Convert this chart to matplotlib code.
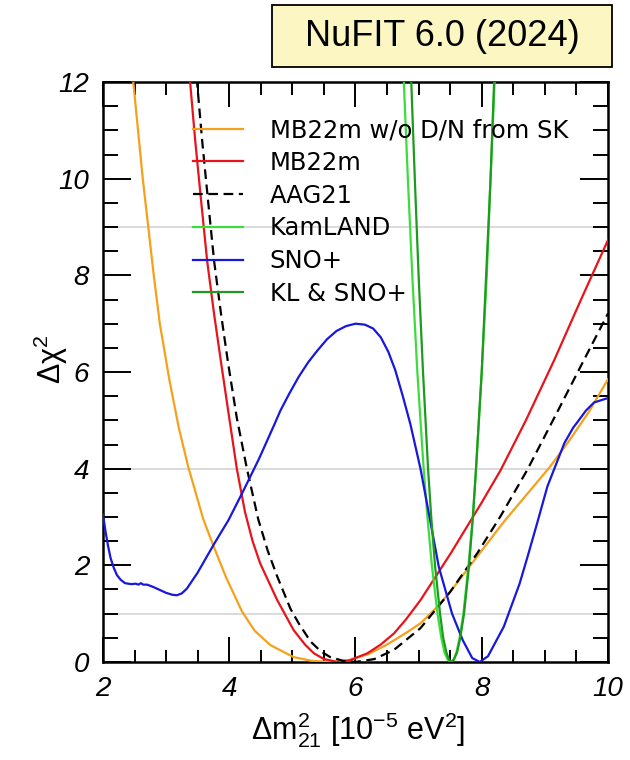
import matplotlib
matplotlib.use("Agg")
import matplotlib.pyplot as plt
from matplotlib.patches import Rectangle

# =========================
# data (x = dm21^2 [1e-5 eV^2], y = delta chi^2)
# =========================
orange_x = [2.45, 2.48, 2.63, 2.80, 2.90, 3.05, 3.20, 3.35, 3.59, 3.75, 3.95, 4.20, 4.40, 4.65,
            5.02, 5.30, 5.60, 5.90, 6.20, 6.50, 6.80, 7.03, 7.25, 7.50, 7.88, 8.35, 8.80, 9.07,
            9.36, 9.70, 10.0]
orange_y = [12.4, 12.0, 10.0, 8.05, 7.0, 5.85, 4.85, 4.04, 2.95, 2.40, 1.75, 1.05, 0.65, 0.35,
            0.10, 0.025, 0.0, 0.04, 0.16, 0.36, 0.60, 0.80, 1.08, 1.45, 2.10, 2.90, 3.60, 4.02,
            4.53, 5.18, 5.85]

red_x = [3.36, 3.38, 3.46, 3.55, 3.65, 3.76, 3.87, 4.00, 4.12, 4.25, 4.37, 4.49, 4.76, 5.02,
         5.20, 5.34, 5.50, 5.71, 5.90, 6.19, 6.40, 6.61, 6.80, 7.03, 7.51, 8.00, 8.30, 8.70,
         9.15, 9.57, 10.0]
red_y = [12.4, 12.0, 10.8, 9.6, 8.3, 7.2, 6.2, 5.05, 4.0, 3.10, 2.50, 2.04, 1.28, 0.66,
         0.36, 0.18, 0.06, 0.0, 0.03, 0.18, 0.36, 0.59, 0.88, 1.28, 2.25, 3.30, 3.97, 5.0,
         6.25, 7.49, 8.73]

aag_x = [3.47, 3.49, 3.57, 3.66, 3.76, 3.87, 3.98, 4.12, 4.28, 4.46, 4.61, 4.76, 4.97, 5.10,
         5.29, 5.45, 5.60, 5.80, 6.00, 6.30, 6.61, 7.03, 7.50, 7.93, 8.30, 8.72, 9.20, 9.62, 10.0]
aag_y = [12.4, 12.0, 10.8, 9.6, 8.3, 7.2, 6.2, 5.05, 4.0, 2.95, 2.30, 1.77, 1.10, 0.80,
         0.42, 0.22, 0.10, 0.025, 0.0, 0.06, 0.25, 0.70, 1.45, 2.25, 3.02, 3.97, 5.18, 6.25, 7.21]

kl_x = [6.75, 6.83, 6.90, 6.98, 7.08, 7.14, 7.21, 7.30, 7.36, 7.41, 7.46, 7.51,
        7.555, 7.60, 7.65, 7.71, 7.79, 7.86, 7.91, 8.00, 8.08, 8.14, 8.22]
kl_y = [12.5, 10.0, 8.0, 6.0, 4.0, 3.0, 2.0, 1.0, 0.5, 0.2, 0.05, 0.0,
        0.05, 0.2, 0.5, 1.0, 2.0, 3.0, 4.0, 6.0, 8.0, 10.0, 12.5]

klsno_x = [6.87, 6.94, 7.00, 7.07, 7.15, 7.20, 7.26, 7.34, 7.39, 7.44, 7.48, 7.52,
           7.56, 7.61, 7.66, 7.72, 7.80, 7.86, 7.91, 8.00, 8.07, 8.14, 8.21]
klsno_y = [12.5, 10.0, 8.0, 6.0, 4.0, 3.0, 2.0, 1.0, 0.5, 0.2, 0.05, 0.0,
           0.05, 0.2, 0.5, 1.0, 2.0, 3.0, 4.0, 6.0, 8.0, 10.0, 12.5]

sno_x = [2.00, 2.04, 2.08, 2.12, 2.17, 2.22, 2.28, 2.35, 2.45, 2.52, 2.56, 2.60, 2.64, 2.70,
         2.80, 2.90, 3.00, 3.10, 3.17, 3.25, 3.33, 3.50, 3.75, 3.99, 4.23, 4.47, 4.70, 4.81,
         4.95, 5.10, 5.25, 5.40, 5.55, 5.70, 5.85, 6.00, 6.15, 6.28, 6.40, 6.52, 6.63, 6.75,
         6.87, 7.03, 7.18, 7.32, 7.53, 7.70, 7.85, 7.97, 8.10, 8.35, 8.60, 8.72, 8.88, 9.04,
         9.31, 9.45, 9.52, 9.65, 9.78, 9.90, 10.0]
sno_y = [3.05, 2.70, 2.40, 2.15, 1.95, 1.80, 1.70, 1.63, 1.61, 1.62, 1.60, 1.63, 1.60, 1.60,
         1.55, 1.49, 1.43, 1.39, 1.38, 1.42, 1.52, 1.85, 2.42, 2.94, 3.56, 4.20, 4.87, 5.20,
         5.55, 5.90, 6.20, 6.45, 6.68, 6.85, 6.95, 7.00, 6.98, 6.90, 6.72, 6.42, 6.04, 5.50,
         4.92, 4.00, 2.95, 1.97, 1.00, 0.45, 0.08, 0.0, 0.12, 0.73, 1.62, 2.15, 2.88, 3.63,
         4.53, 4.85, 4.97, 5.20, 5.37, 5.42, 5.46]

ref_levels = [1, 4, 9]

# =========================
# style
# =========================
plt.rcParams['font.family'] = ['Liberation Sans', 'DejaVu Sans']
plt.rcParams['mathtext.fontset'] = 'custom'
plt.rcParams['mathtext.rm'] = 'Liberation Sans'
plt.rcParams['mathtext.it'] = 'Liberation Sans:italic'
plt.rcParams['mathtext.default'] = 'regular'
plt.rcParams['lines.scale_dashes'] = False

fig = plt.figure(figsize=(6.3, 7.6), dpi=100)
ax = fig.add_axes([0.1635, 0.129, 0.8015, 0.763])

for lev in ref_levels:
    ax.axhline(lev, color='#d4d4d4', lw=1.2, zorder=1)

lw = 1.6
ax.plot(orange_x, orange_y, color='#f5a11c', lw=lw, label='MB22m w/o D/N from SK', zorder=3)
ax.plot(red_x, red_y, color='#e8141c', lw=lw, label='MB22m', zorder=3)
ax.plot(aag_x, aag_y, color='black', lw=lw, dashes=(7, 4), label='AAG21', zorder=3)
ax.plot(kl_x, kl_y, color='#3ddc3d', lw=lw, label='KamLAND', zorder=3)
ax.plot(sno_x, sno_y, color='#1818dc', lw=lw, label='SNO+', zorder=3)
ax.plot(klsno_x, klsno_y, color='#1e9a1e', lw=lw, label='KL & SNO+', zorder=3)

ax.set_xlim(2, 10)
ax.set_ylim(0, 12)
ax.set_xticks([2, 4, 6, 8, 10])
ax.set_xticks([x * 0.5 for x in range(4, 21)], minor=True)
ax.set_yticks([0, 2, 4, 6, 8, 10, 12])
ax.set_yticks([y * 0.5 for y in range(0, 25)], minor=True)

ax.tick_params(axis='both', which='both', direction='in', top=True, right=True, width=1.4)
ax.tick_params(axis='x', which='major', length=18, pad=10)
ax.tick_params(axis='x', which='minor', length=9)
ax.tick_params(axis='y', which='major', length=20, pad=10)
ax.tick_params(axis='y', which='minor', length=10.5)
for lab in ax.get_xticklabels() + ax.get_yticklabels():
    lab.set_fontstyle('italic')
    lab.set_fontsize(20)
for sp in ax.spines.values():
    sp.set_linewidth(1.8)

ax.set_xlabel(r'$\Delta m^2_{21}$ [10$^{-5}$ eV$^2$]', fontsize=22)
ax.xaxis.set_label_coords(0.505, -0.083)
ax.set_ylabel(r'$\Delta\chi^2$', fontsize=22)
ax.yaxis.set_label_coords(-0.066, 0.522)

leg = ax.legend(loc='upper left', bbox_to_anchor=(0.178, 0.938), frameon=False,
                borderpad=0, borderaxespad=0, handlelength=2.06, handletextpad=1.1,
                labelspacing=0.36, prop={'family': 'DejaVu Sans', 'size': 17.5})
leg.set_zorder(5)

# title box
fig.patches.append(Rectangle((0.432, 0.912), 0.539, 0.081, transform=fig.transFigure,
                             facecolor='#fcf6c2', edgecolor='black', lw=1.3))
fig.text(0.7015, 0.9525, 'NuFIT 6.0 (2024)', ha='center', va='center', fontsize=26)

plt.savefig('out.png', dpi=100)
